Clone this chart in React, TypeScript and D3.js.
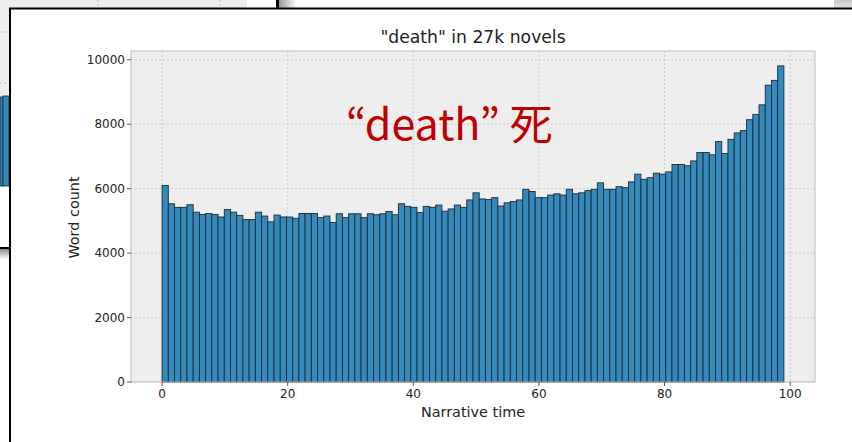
import React from 'react';
import * as d3 from 'd3';

// word counts per narrative-time bin (100 bins over 0..99)
const wordCount = [
  6100, 5530, 5420, 5420, 5500, 5270, 5200, 5230, 5200, 5120,
  5350, 5270, 5170, 5040, 5040, 5270, 5150, 4970, 5180, 5120,
  5120, 5080, 5230, 5230, 5230, 5100, 5150, 4950, 5220, 5100,
  5220, 5220, 5100, 5220, 5190, 5220, 5290, 5190, 5530, 5450,
  5420, 5260, 5450, 5420, 5490, 5300, 5370, 5490, 5420, 5650,
  5870, 5680, 5660, 5720, 5460, 5560, 5600, 5650, 5980, 5910,
  5720, 5720, 5800, 5840, 5800, 5980, 5840, 5870, 5940, 5980,
  6180, 5980, 5980, 6060, 6030, 6210, 6450, 6290, 6340, 6480,
  6450, 6520, 6750, 6750, 6710, 6860, 7120, 7120, 7050, 7460,
  7090, 7530, 7730, 7800, 8140, 8300, 8600, 9210, 9360, 9810,
];
const binRange = [0, 99];
const xTicks = [0, 20, 40, 60, 80, 100];
const yTicks = [0, 2000, 4000, 6000, 8000, 10000];
const title = '"death" in 27k novels';
const xLabel = 'Narrative time';
const yLabel = 'Word count';
const note = '\u201Cdeath\u201D 死';

// background window grid (decoration only)
const bgGridX = [98, 220];
const bgGridY = [32, 83];

const W = 852;
const H = 442;
const margin = { left: 131, right: 815, top: 51, bottom: 382 };
const font = '"DejaVu Sans", sans-serif';

export default function App() {
  const n = wordCount.length;
  const binW = (binRange[1] - binRange[0]) / n;
  const span = binRange[1] - binRange[0];

  const x = d3.scaleLinear()
    .domain([binRange[0] - span * 0.05, binRange[1] + span * 0.05])
    .range([margin.left, margin.right]);
  const y = d3.scaleLinear()
    .domain([0, (d3.max(wordCount) ?? 0) * 1.047])
    .range([margin.bottom, margin.top]);

  const cx = (margin.left + margin.right) / 2;
  const cy = (margin.top + margin.bottom) / 2;

  return (
    <div style={{ position: 'fixed', left: 0, top: 0 }}>
      <svg width={W} height={H} style={{ display: 'block' }}>
        <defs>
          <linearGradient id="shadowR" x1="0" x2="1" y1="0" y2="0">
            <stop offset="0%" stopColor="#9a9a9a" />
            <stop offset="100%" stopColor="#ffffff" />
          </linearGradient>
          <linearGradient id="shadowTR" x1="0" x2="0" y1="0" y2="1">
            <stop offset="0%" stopColor="#c8c8c8" />
            <stop offset="100%" stopColor="#ffffff" />
          </linearGradient>
          <linearGradient id="shadowB" x1="0" x2="0" y1="0" y2="1">
            <stop offset="0%" stopColor="#8a8a8a" />
            <stop offset="100%" stopColor="#ffffff" />
          </linearGradient>
        </defs>
        <rect x={0} y={0} width={W} height={H} fill="#fff" />

        {/* window behind */}
        <rect x={0} y={0} width={247} height={186} fill="#eeeeee" />
        {bgGridX.map(g => (
          <line key={'bx' + g} x1={g} x2={g} y1={0} y2={186} stroke="#c4c4c4" strokeDasharray="2,2" />
        ))}
        {bgGridY.map(g => (
          <line key={'by' + g} x1={0} x2={247} y1={g} y2={g} stroke="#c4c4c4" strokeDasharray="2,2" />
        ))}
        <rect x={0} y={97} width={3} height={89} fill="#348ABD" stroke="#222" strokeWidth={0.8} />
        <rect x={3} y={96} width={6} height={90} fill="#348ABD" stroke="#222" strokeWidth={0.8} />
        <rect x={276} y={0} width={3} height={8} fill="#000" />
        <rect x={279} y={0} width={18} height={8} fill="url(#shadowR)" />
        <rect x={0} y={247} width={10} height={2} fill="#000" />
        <rect x={0} y={249} width={10} height={10} fill="url(#shadowB)" />
        <rect x={834} y={0} width={18} height={20} fill="url(#shadowTR)" />

        {/* front window */}
        <rect x={10} y={8.5} width={W} height={H} fill="#fff" stroke="#000" strokeWidth={2} />

        {/* plot area */}
        <rect x={margin.left} y={margin.top} width={margin.right - margin.left}
          height={margin.bottom - margin.top} fill="#eeeeee" />
        {xTicks.map(t => (
          <line key={'gx' + t} x1={x(t)} x2={x(t)} y1={margin.top} y2={margin.bottom}
            stroke="#c2c2c2" strokeWidth={0.8} strokeDasharray="2,2" />
        ))}
        {yTicks.map(t => (
          <line key={'gy' + t} x1={margin.left} x2={margin.right} y1={y(t)} y2={y(t)}
            stroke="#c2c2c2" strokeWidth={0.8} strokeDasharray="2,2" />
        ))}

        {wordCount.map((v, i) => {
          const x0 = x(binRange[0] + i * binW);
          const x1 = x(binRange[0] + (i + 1) * binW);
          return (
            <rect key={i} x={x0} y={y(v)} width={x1 - x0} height={y(0) - y(v)}
              fill="#348ABD" stroke="#1f2a33" strokeWidth={0.9} />
          );
        })}

        <rect x={margin.left} y={margin.top} width={margin.right - margin.left}
          height={margin.bottom - margin.top} fill="none" stroke="#bcbcbc" strokeWidth={1} />

        {/* axes */}
        {xTicks.map(t => (
          <g key={'xt' + t}>
            <line x1={x(t)} x2={x(t)} y1={margin.bottom} y2={margin.bottom + 4} stroke="#333" strokeWidth={0.8} />
            <text x={x(t)} y={margin.bottom + 16} textAnchor="middle" fontFamily={font}
              fontSize={12} fill="#222">{t}</text>
          </g>
        ))}
        {yTicks.map(t => (
          <g key={'yt' + t}>
            <line x1={margin.left - 4} x2={margin.left} y1={y(t)} y2={y(t)} stroke="#333" strokeWidth={0.8} />
            <text x={margin.left - 6} y={y(t) + 4.3} textAnchor="end" fontFamily={font}
              fontSize={12} fill="#222">{t}</text>
          </g>
        ))}

        <text x={cx} y={43} textAnchor="middle" fontFamily={font} fontSize={17.2} fill="#222">{title}</text>
        <text x={cx} y={417} textAnchor="middle" fontFamily={font} fontSize={14.4} fill="#222">{xLabel}</text>
        <text transform={`translate(79,${cy + 1}) rotate(-90)`} textAnchor="middle"
          fontFamily={font} fontSize={14.4} fill="#222">{yLabel}</text>

        <text x={346} y={140} fontFamily='"Noto Sans CJK JP", "Noto Sans CJK SC", sans-serif'
          fontSize={43} fill="#C00000">{note}</text>
      </svg>
    </div>
  );
}
